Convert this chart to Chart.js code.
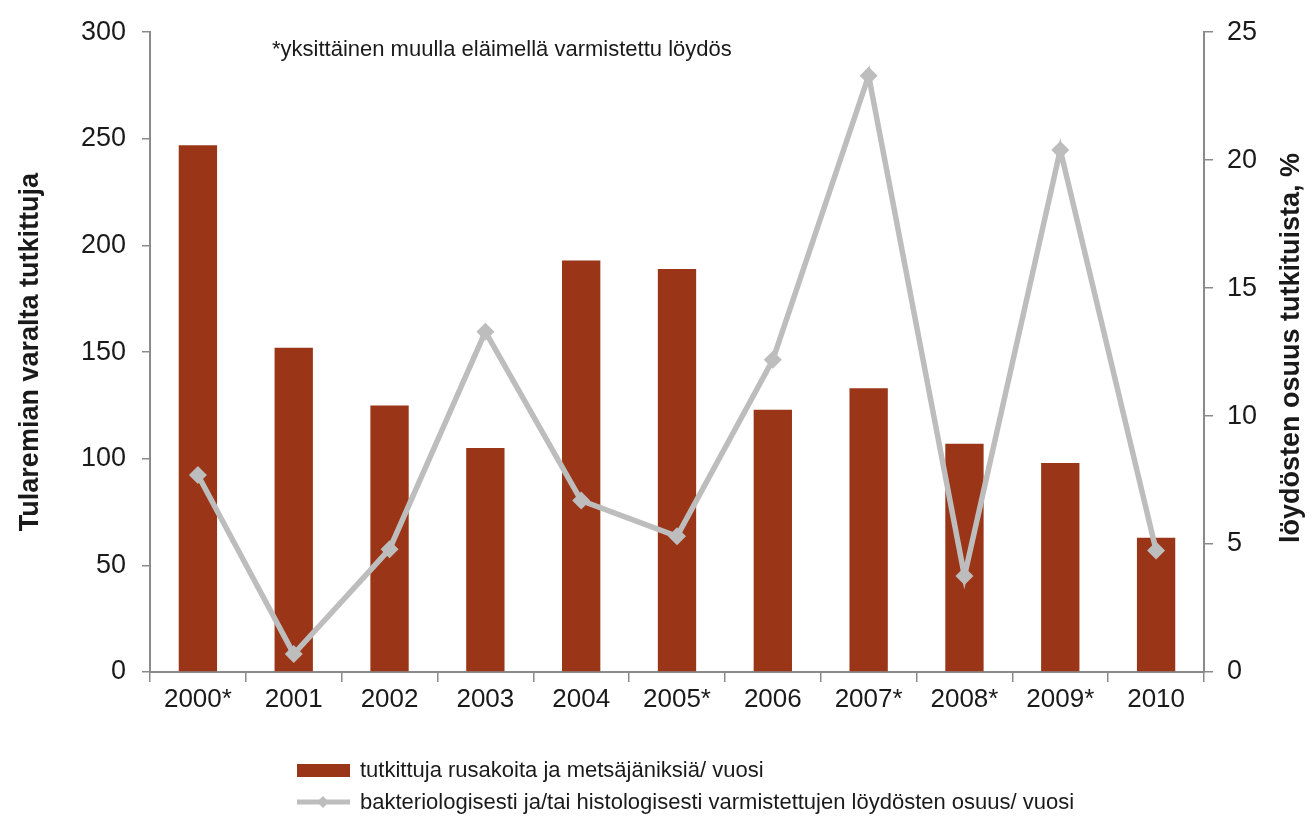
<!DOCTYPE html>
<html>
<head>
<meta charset="utf-8">
<script src="https://cdn.jsdelivr.net/npm/chart.js@4.4.1/dist/chart.umd.min.js"></script>
<style>
html, body { margin: 0; padding: 0; background: #fff; }
#wrap { width: 1313px; height: 818px; position: relative; }
</style>
</head>
<body>
<div id="wrap"><canvas id="tularemiaChart"></canvas></div>
<script>
const vuodet = ['2000*', '2001', '2002', '2003', '2004', '2005*', '2006', '2007*', '2008*', '2009*', '2010'];
const tutkittuja = [247, 152, 125, 105, 193, 189, 123, 133, 107, 98, 63];
const osuus = [7.7, 0.7, 4.8, 13.3, 6.7, 5.3, 12.2, 23.3, 3.75, 20.4, 4.75];
const vasenTicks = [0, 50, 100, 150, 200, 250, 300];
const oikeaTicks = [0, 5, 10, 15, 20, 25];

const barColor = '#9B3517';
const lineColor = '#BDBDBD';
const axisColor = '#8A8A8A';
const textColor = '#1A1A1A';
const fontFamily = "'Liberation Sans', Arial, sans-serif";

Chart.defaults.font.family = fontFamily;
Chart.defaults.color = textColor;

// huomautus, oikea otsikko ja selite piirretään itse
const extras = {
    id: 'extras',
    afterDraw(chart) {
        const c = chart.ctx;
        c.save();
        c.fillStyle = textColor;
        c.font = '22px ' + fontFamily;
        c.textBaseline = 'middle';
        c.textAlign = 'left';
        c.fillText('*yksittäinen muulla eläimellä varmistettu löydös', 272, 50);

        // oikean akselin otsikko
        c.save();
        c.translate(1292, 348);
        c.rotate(-Math.PI / 2);
        c.textAlign = 'center';
        c.font = 'bold 27px ' + fontFamily;
        c.fillText('löydösten osuus tutkituista, %', 0, 0);
        c.restore();

        // selite
        c.fillStyle = barColor;
        c.fillRect(297, 764, 53, 13);
        c.fillStyle = textColor;
        c.font = '22px ' + fontFamily;
        c.fillText('tutkittuja rusakoita ja metsäjäniksiä/ vuosi', 360, 771);

        c.strokeStyle = lineColor;
        c.lineWidth = 5;
        c.beginPath();
        c.moveTo(297, 802);
        c.lineTo(350, 802);
        c.stroke();
        c.fillStyle = lineColor;
        c.beginPath();
        c.moveTo(323, 796);
        c.lineTo(329, 802);
        c.lineTo(323, 808);
        c.lineTo(317, 802);
        c.closePath();
        c.fill();
        c.fillStyle = textColor;
        c.fillText('bakteriologisesti ja/tai histologisesti varmistettujen löydösten osuus/ vuosi', 360, 803);
        c.restore();
    }
};

new Chart(document.getElementById('tularemiaChart'), {
    type: 'bar',
    data: {
        labels: vuodet,
        datasets: [{
            type: 'line',
            label: 'bakteriologisesti ja/tai histologisesti varmistettujen löydösten osuus/ vuosi',
            data: osuus,
            yAxisID: 'y1',
            borderColor: lineColor,
            borderWidth: 5.5,
            pointStyle: 'rectRot',
            pointRadius: 9,
            pointBackgroundColor: lineColor,
            pointBorderWidth: 0,
            tension: 0,
            order: 0
        }, {
            label: 'tutkittuja rusakoita ja metsäjäniksiä/ vuosi',
            data: tutkittuja,
            yAxisID: 'y',
            backgroundColor: barColor,
            barPercentage: 0.4,
            categoryPercentage: 1,
            order: 1
        }]
    },
    options: {
        responsive: true,
        maintainAspectRatio: false,
        animation: false,
        layout: { padding: { top: 25, left: 0, right: 0, bottom: 0 } },
        plugins: {
            legend: { display: false },
            tooltip: { enabled: false }
        },
        scales: {
            x: {
                afterFit: s => { s.height = 146; },
                grid: { offset: true, drawOnChartArea: false, tickLength: 10, color: axisColor, lineWidth: 1.5 },
                border: { color: axisColor, width: 2 },
                ticks: { font: { size: 26 }, color: textColor, padding: 2, maxRotation: 0 }
            },
            y: {
                position: 'left',
                min: 0,
                max: 300,
                afterFit: s => { s.width = 150; },
                afterBuildTicks: s => { s.ticks = vasenTicks.map(v => ({ value: v })); },
                grid: { drawOnChartArea: false, tickLength: 8, color: axisColor, lineWidth: 1.5 },
                border: { color: axisColor, width: 2 },
                ticks: { font: { size: 27 }, color: textColor, padding: 16 },
                title: {
                    display: true,
                    text: 'Tularemian varalta tutkittuja',
                    font: { size: 27, weight: 'bold' },
                    color: textColor,
                    padding: { top: 14, bottom: 0 }
                }
            },
            y1: {
                position: 'right',
                min: 0,
                max: 25,
                afterFit: s => { s.width = 109; },
                afterBuildTicks: s => { s.ticks = oikeaTicks.map(v => ({ value: v })); },
                grid: { drawOnChartArea: false, tickLength: 9, color: axisColor, lineWidth: 1.5 },
                border: { color: axisColor, width: 2 },
                ticks: { font: { size: 27 }, color: textColor, padding: 14 }
            }
        }
    },
    plugins: [extras]
});
</script>
</body>
</html>
